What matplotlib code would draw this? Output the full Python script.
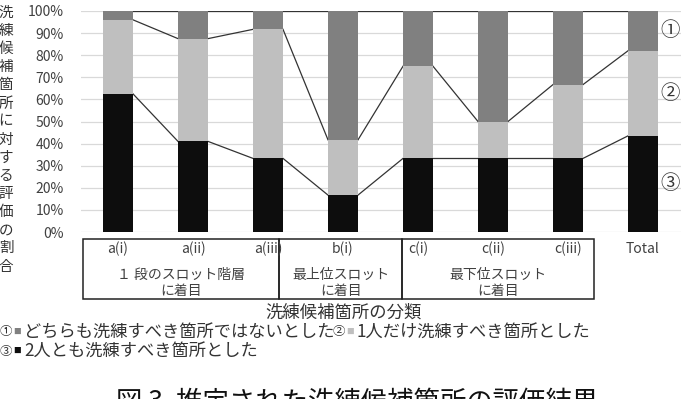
import matplotlib
matplotlib.use("Agg")
import matplotlib.pyplot as plt
import matplotlib.transforms as mtrans
from matplotlib.patches import Rectangle
import numpy as np

plt.rcParams["font.family"] = ["Noto Sans CJK JP", "DejaVu Sans"]

# データ（各箇所に対する評価の割合, %）
categories = ["a(i)", "a(ii)", "a(iii)", "b(i)", "c(i)", "c(ii)", "c(iii)", "Total"]
both = [62.5, 41.0, 33.3, 16.7, 33.3, 33.3, 33.3, 43.5]      # ③ 2人とも
one = [33.5, 46.5, 58.4, 25.0, 41.7, 16.7, 33.4, 38.5]       # ② 1人だけ
neither = [4.0, 12.5, 8.3, 58.3, 25.0, 50.0, 33.3, 18.0]     # ① どちらも…ない

groups = [("１ 段のスロット階層\nに着目", -0.47, 2.15),
          ("最上位スロット\nに着目", 2.15, 3.79),
          ("最下位スロット\nに着目", 3.79, 6.35)]
yticks = np.arange(0, 101, 10)

C_BLACK = "#0d0d0d"
C_LIGHT = "#bfbfbf"
C_DARK = "#808080"
TXT = "#404040"

fig = plt.figure(figsize=(6.88, 3.99), dpi=100)
ax = fig.add_axes([80.5 / 688, (399 - 232) / 399, 600 / 688, 221 / 399])

x = np.arange(len(categories))
w = 0.4
ax.bar(x, both, w, color=C_BLACK, zorder=3)
ax.bar(x, one, w, bottom=both, color=C_LIGHT, zorder=3)
ax.bar(x, neither, w, bottom=np.add(both, one), color=C_DARK, zorder=3)

# 系列線
tops = [np.array(both), np.add(both, one), np.add(np.add(both, one), neither)]
for t in tops:
    for i in range(len(x) - 1):
        ax.plot([x[i] + w / 2, x[i + 1] - w / 2], [t[i], t[i + 1]],
                color="#333333", lw=0.9, zorder=2)

ax.set_xlim(-0.5, 7.5)
ax.set_ylim(0, 100)
ax.set_yticks(yticks)
ax.set_yticklabels([f"{v}%" for v in yticks], fontsize=10, color=TXT)
ax.set_xticks([])
ax.tick_params(axis="y", length=0, pad=12)
ax.grid(axis="y", color="#d9d9d9", lw=0.9, zorder=0)
for s in ax.spines.values():
    s.set_visible(False)

# 右側の丸数字
mid = [both[-1] / 2, both[-1] + one[-1] / 2, both[-1] + one[-1] + neither[-1] / 2]
for label, yv in zip(["③", "②", "①"], mid):
    ax.text(7.36, yv, label, ha="center", va="center", fontsize=14, color="#333333")

# カテゴリ表
tr = mtrans.blended_transform_factory(ax.transData, ax.transAxes)
for i, c in enumerate(categories):
    ax.text(x[i], -0.075, c, transform=tr, ha="center", va="center",
            fontsize=10, color=TXT)
for label, x0, x1 in groups:
    ax.add_patch(Rectangle((x0, -0.303), x1 - x0, 0.271, transform=tr,
                           fill=False, ec="#222222", lw=1.1, clip_on=False))
    ax.text((x0 + x1) / 2, -0.23, label, transform=tr, ha="center", va="center",
            fontsize=10, color=TXT, linespacing=1.25)

# 軸ラベル
fig.text(344 / 688, 1 - 313 / 399, "洗練候補箇所の分類", ha="center", va="center",
         fontsize=12.5, color="#333333")
ylabel = "全洗練候補箇所に対する評価の割合"
for k, ch in enumerate(ylabel):
    fig.text(6 / 688, 1 - (-5 + 18.1 * k) / 399, ch, ha="center", va="center",
             fontsize=10.5, color="#333333")

# 凡例
def legend_item(x0, y0, num, color, text):
    fig.text(x0 / 688, 1 - y0 / 399, num, ha="left", va="center", fontsize=9, color="#333333")
    fig.text((x0 + 13) / 688, 1 - y0 / 399, "■", ha="left", va="center", fontsize=5.5, color=color)
    fig.text((x0 + 24) / 688, 1 - y0 / 399, text, ha="left", va="center", fontsize=12.4, color="#333333")

legend_item(0, 332, "①", C_DARK, "どちらも洗練すべき箇所ではないとした")
legend_item(333, 332, "②", C_LIGHT, "1人だけ洗練すべき箇所とした")
legend_item(0, 351, "③", C_BLACK, "2人とも洗練すべき箇所とした")

# 図タイトル（下端で切れている）
fig.text(357 / 688, 1 - 388 / 399, "図 3. 推定された洗練候補箇所の評価結果",
         ha="center", va="top", fontsize=19, color="#111111")

fig.savefig("out.png", dpi=100, facecolor="white")
